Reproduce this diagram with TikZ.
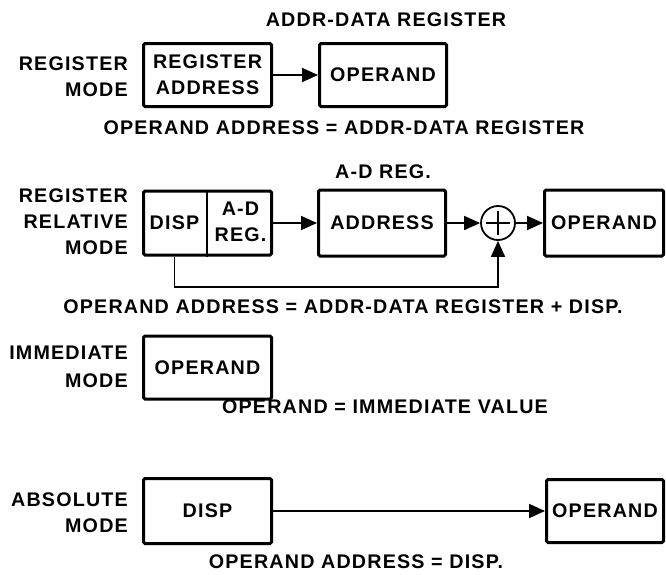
\documentclass[tikz,border=0pt]{standalone}
\usepackage{fontspec}
\setmainfont{Liberation Sans}[LetterSpace=6]
\usetikzlibrary{arrows.meta}
\tikzset{
  txt/.style={font=\bfseries\fontsize{19.7}{26}\selectfont, inner sep=0pt},
  box/.style={draw, line width=3pt, rounded corners=1.5pt, txt, align=center},
  lbl/.style={txt, align=right, anchor=east},
  caption/.style={txt},
  flow/.style={line width=1.8pt, -{Triangle[length=16pt,width=14pt]}},
  divider/.style={line width=2.2pt},
  sumring/.style={draw, circle, line width=1.8pt, minimum size=34pt, inner sep=0pt},
}
\begin{document}
\begin{tikzpicture}[x=1pt,y=-1pt]
\useasboundingbox (0,0) rectangle (666,574);

% ---- register mode
\node[caption] (t1) at (386,20) {ADDR-DATA REGISTER};
\node[lbl] (l1) at (128,76.5) {REGISTER\\MODE};
\node[box, minimum width=128pt, minimum height=63pt] (ra) at (207.5,75) {REGISTER\\ADDRESS};
\node[box, minimum width=127pt, minimum height=63pt] (op1) at (383,75) {OPERAND};
\draw[flow] (ra.east) -- (op1.west);
\node[caption] (c1) at (344,128) {OPERAND ADDRESS = ADDR-DATA REGISTER};

% ---- register relative mode
\node[caption] (t2) at (383,172) {A-D REG.};
\node[lbl] (l2) at (128,222) {REGISTER\\RELATIVE\\MODE};
\node[box, minimum width=128pt, minimum height=64pt] (rr) at (207.5,223) {};
\coordinate (split) at (207,0);
\draw[divider] (rr.north -| split) -- (rr.south -| split);
\node[txt] (dsp) at (174.5,223) {DISP};
\node[txt, align=center] (adr) at (240.5,222) {A-D\\REG.};
\node[box, minimum width=127pt, minimum height=66pt] (addr) at (382,223) {ADDRESS};
\node[sumring] (sum) at (498,223) {};
\draw[line width=1.8pt] ([xshift=-12pt]sum.center) -- ([xshift=12pt]sum.center)
                        ([yshift=-12pt]sum.center) -- ([yshift=12pt]sum.center);
\node[box, minimum width=119pt, minimum height=66pt] (op2) at (604,223) {OPERAND};
\draw[flow] (rr.east) -- (addr.west);
\draw[flow] (addr.east) -- (sum.west);
\draw[flow] (sum.east) -- (op2.west);
\coordinate (fb) at (0,287);
\draw[flow] (rr.south -| dsp) -- (dsp |- fb) -- (sum |- fb) -- (sum.south);
\node[caption] (c2) at (343,307) {OPERAND ADDRESS = ADDR-DATA REGISTER + DISP.};

% ---- immediate mode
\node[lbl, align=right] (l3) at (128,367) {IMMEDIATE\\[2pt]MODE};
\node[box, minimum width=128pt, minimum height=63pt] (imm) at (207.5,367.5) {OPERAND};
\node[caption] (c3) at (385,407) {OPERAND = IMMEDIATE VALUE};

% ---- absolute mode
\node[lbl] (l4) at (128,513) {ABSOLUTE\\MODE};
\node[box, minimum width=128pt, minimum height=65pt] (abs) at (207.5,511) {DISP};
\node[box, minimum width=117pt, minimum height=63pt] (op4) at (605,511) {OPERAND};
\draw[flow] (abs.east) -- (op4.west);
\node[caption] (c4) at (356,562) {OPERAND ADDRESS = DISP.};
\end{tikzpicture}
\end{document}
